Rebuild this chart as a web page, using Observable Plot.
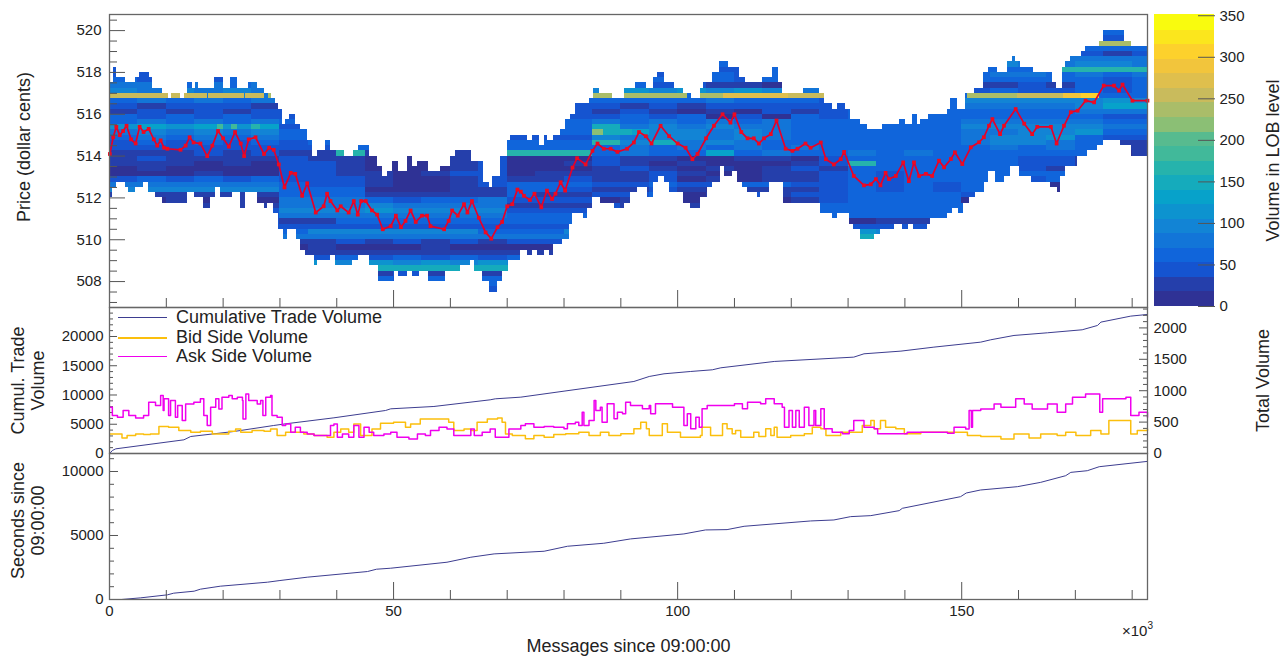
<!DOCTYPE html>
<html><head><meta charset="utf-8">
<script src="https://cdn.jsdelivr.net/npm/d3@7"></script>
<script src="https://cdn.jsdelivr.net/npm/@observablehq/plot@0.6"></script>
<style>
html,body{margin:0;padding:0;background:#fff}
#wrap{position:relative;width:1285px;height:656px;overflow:hidden;font-family:"Liberation Sans",sans-serif;color:#222}
#wrap svg{position:absolute;left:0;top:0}
.lg{position:absolute;font-size:18px;line-height:20px;white-space:nowrap}
.sw{position:absolute;left:118px;width:49px}
</style></head><body><div id="wrap"></div>
<script>
// ---------- Limit order book: envelope of occupied levels (step functions) ----------
const topK=[0,0.65,1.3,2.8,4.6,5.2,7,7.5,9.3,10.4,11,12.5,13.2,13.7,14.6,15.2,15.7,18.4,20.1,21.3,22.6,24.5,26,27.2,28.5,29.2,29.8,30.4,31,31.6,32.7,33.6,34.8,35.7,36.6,38,38.9,41.3,43,43.9,45.7,47.1,48,48.9,49.8,50.9,52.4,53.3,54.2,56.2,58.3,60,60.9,63.8,65.9,66.8,67.5,68.9,70.1,70.5,72.36,73.5,74.4,75.6,76.5,77.1,78.2,79.3,80.3,81.2,82,84.4,85.2,86.2,88.5,90.6,92.6,94.5,95.8,96.5,97.7,99.4,101.1,102.4,104,104.6,106.1,107.4,109,110.8,112,114.9,116.7,117.8,118.4,122.2,124.9,125.8,127.2,128.1,129.6,130.5,132.2,133.4,136,139,140.1,141.3,142.2,142.8,144.2,147.5,148.1,149.2,150.7,152.2,153.9,154.8,156.3,158,158.9,159.5,160.4,162.7,166,166.6,167.7,168.3,169.2,171,171.8,174.2,175,178.6,179.8];
const topP=[517.5,518.25,517.75,517.5,517.75,518,517.75,517.25,517,516.75,517,516.75,517,517.5,517.25,517.5,517.25,517.75,517.25,517.75,517.25,517.5,517.25,517,516.75,516.5,516.25,515.5,515.75,516,515.5,515.25,514.75,514,514.25,514.75,514.25,514,514.25,514.5,514,513.5,513,513.25,513.75,513.25,514,513.5,513.75,513.25,513.5,514,514.25,513.75,512.75,512.5,513,514,514.75,515,515,514.75,515,514.5,515,514.75,515,515.25,515.75,516,516.5,516.75,517.25,517,516.75,517.25,517.5,517.25,517.75,518,517.5,517.25,517,516.75,517.25,517.5,518,518.5,518.25,517.75,517.5,517.75,518.25,517.5,517,517.25,517,516.5,516.25,516.5,516.25,515.75,515.5,515.25,515.5,515.75,515.5,516,515.5,515.75,516,516.25,516.75,516.25,517,517.25,518,518.25,518,518.5,518.75,518.5,518.25,518,517.5,517.25,518.25,518.5,518.75,519,519.25,519.5,520,519.5,519.25];
const botK=[0,0.5,1.3,2.8,3.4,4.6,6,6.9,8.1,9.3,13.7,14.9,16.6,17.8,18.7,19.5,21.6,23,23.9,26,27.2,27.8,28.9,29.8,30.7,31.3,33,33.6,34.5,36,36.6,38.9,39.8,42.7,43.9,45.7,47.4,50.1,50.9,52.4,53.3,54.5,56.2,59.2,61.8,63.6,64.2,65.6,66.8,68.3,69.1,70.3,72.36,73.5,74.4,75.3,76.5,77.4,78.2,79.7,80.9,81.5,83.5,84.1,85,86.4,88.8,90.6,91.7,92.9,94.7,95.8,96.7,97.6,98.5,101.1,102.3,104,105.2,106.1,107.6,108.2,109.6,110.5,111.4,112.3,114,114.6,116.1,118.7,125.2,127.2,128.1,130.2,131,132.2,134.6,135.7,138.1,139.6,140.7,141.6,143.9,144.5,147.5,148.4,149.5,150.4,151.3,152.5,154,154.8,156,157.5,158.6,160.1,162.2,165.7,166.8,167.4,168.3,170.4,172.1,173.9,175,178,179.8];
const botP=[512,512.5,512.75,512.5,512.25,512.5,512.75,512.25,512,511.75,512.25,512,511.5,512,512.5,512,512.25,511.5,512.25,511.75,511.5,511.75,511.25,510.5,510,510.5,510,509.5,509.25,508.75,509,509.25,508.75,509,509.25,508.75,508,508.5,508.25,508.5,508.25,508.5,508,508.5,508.75,509,508.5,508,507.5,508,508.5,509,509.5,509.25,509.5,509.25,509.5,509.25,509.75,510,510.75,511.25,511,511.5,512,511.75,511.5,511.75,512.25,512.5,512,512.75,513,512.75,512.25,511.75,511.5,512,512.5,512.75,513.5,513,513.25,512.75,512.5,512.25,512,512.25,512.75,511.75,511.25,511,511.25,510.75,510.5,510,510.25,510.5,510.75,510.5,510.75,510.5,510.75,511,511.25,511.5,511.25,511.75,512,512.25,512.75,513.25,512.75,513,513.5,513,512.75,512.5,512.25,513,513.5,514,514.25,514.5,514.75,514.5,514];
// Volume band (base-36 digit of the colour band, 17.5 shares wide) per price level, per 5k-message block.
const levelTop=519.75;
const levelBands=[
"333333 33333333 333 333333333 3333 3333333",
"333333 33333333 333 333333333 3333 3333223",
"333333 33333333 333 333333333 3333 3333dd3",
"333333 33333333 333 333333333 3333 3333333",
"222222 33333333 333 222222222 3333 2221212",
"222222 33333333 333 333332223 3333 4444444",
"232222 33333333 333 333332323 3333 5544554",
"222322 33333333 333 223322323 3333 3339999",
"223223 33333333 333 332232323 3333 3443434",
"323232 33333333 333 323332323 3333 3333323",
"443434 33333333 333 232211012 3333 1121323",
"545454 33333333 333 565656543 3333 2322323",
"545454 33333333 333 333333333 3333 3333333",
"343434 33333333 333 333343332 3333 5555565",
"212221 22222222 222 212122222 3333 4444577",
"121212 22222222 222 121010212 3333 3333444",
"323232 22222222 222 232302032 3333 3333322",
"343434 33333333 333 434343433 3333 4444433",
"676767 23333333 333 845454433 3333 5555544",
"454545 33333333 333 c75545433 3333 4455633",
"343434 32222222 222 545545433 3333 4556322",
"232323 23333333 333 958454333 3333 4554311",
"222222 22333333 333 343434343 3333 3434311",
"111212 11911111 999 343373433 4343 3333301",
"121111 21100012 000 211001102 3333 3322122",
"111010 22100012 001 210100012 9333 3322122",
"010000 22100012 000 121010121 3333 3321211",
"000100 22110122 011 112100112 3233 3333223",
"232323 22210012 112 112010112 3233 3323323",
"444444 32210012 333 223223322 3232 3300033",
"555555 33300011 332 112101112 3232 3200033",
"111111 33311111 311 223012122 3333 2100033",
"101010 44432334 222 012000012 3333 0000033",
"111111 44454444 111 212122323 3333 3333333",
"222222 55565555 222 222222323 3333 3333333",
"222222 44444444 333 333322333 3333 1111333",
"222222 11333333 333 333333333 0111 1133333",
"222222 22222222 222 333333333 2222 2222222",
"333333 35555553 335 333333333 6533 3333333",
"333333 44444444 444 333333333 8433 3333333",
"222222 11212121 222 222222222 2222 2222222",
"000000 01000100 000 000000000 0000 0000000",
"111111 11111111 111 111111111 1111 1111111",
"333333 32323232 333 333333333 3333 3333333",
"555555 56565656 555 555555555 5555 5555555",
"888888 88888888 888 888888888 8888 8888888",
"222222 21212121 222 222222222 2222 2222222",
"333333 23232323 333 333333333 3333 3333333",
"333333 33333333 333 333333333 3333 3333333",
"222222 22222222 222 222222222 2222 2222222"];
// High-volume resting orders: [from k, to k, level, volume]
const hotRuns=[[0,10.4,516.75,253],[11,12.5,516.75,245],[13.2,17.2,516.75,250],[17.5,23.7,516.75,255],[24,27.2,516.75,250],[27.9,28.5,516.75,235],[85.2,88.5,516.75,232],[90.6,101.7,516.75,236],[104,108,516.75,238],[108,119.5,516.75,265],[119.5,122,516.75,245],[122,125.8,516.75,250],[151,159.8,516.75,240],[159.8,168,516.75,262],[168,171,516.75,285],[171,174.2,516.75,305],[85,87,515,225],[87,92,515,140],[19,20,515.25,185],[21.5,22.5,515.25,190],[25,26.5,515.25,170]];
// ---------- Mid price ----------
const midK=[0.06,0.65,1.2,1.8,2.4,3,3.8,4.6,5.3,6,6.9,7.8,8.4,9,9.6,10.2,12.5,13.4,14.1,14.8,16,17.2,18.1,19.1,20,21,22.1,23.1,23.7,24.5,25.7,27.2,28.1,28.9,29.8,30.8,31.9,32.7,33.9,34.8,36.3,37.7,38.3,38.9,40.1,40.7,42.1,43,43.7,44.3,45.1,46.2,47.1,48.1,49.5,50.4,51.3,52.1,53,53.9,55,55.9,56.5,58.9,59.7,60.3,61.3,62.4,63,63.8,65,66.2,67.2,68.3,69.1,70,70.9,71.8,72.4,72.95,74,74.8,76,77,77.9,78.5,79.4,80.2,81.5,82.3,83.8,85,85.9,87,88.2,89.4,91.1,92.3,93.2,94.4,95.4,97,98.5,100,101.4,102.6,103.5,105,106.4,107.9,109.3,110,111.2,112.3,113.4,114.3,115.2,116.4,117.4,119,120.2,121.1,122.5,123.4,125.2,126.1,127.5,128.7,129.3,131,132.8,134,134.9,135.7,136.6,137.2,138.4,139.7,140.7,141.6,142.5,143.7,144.8,146,146.9,148.1,148.8,150.1,151.6,153.05,153.9,154.8,155.4,156.75,157.45,159.5,161,162.4,163.3,165.7,166.7,168,169.2,170.4,171.8,173.3,175,176.8,177.7,178.3,180.05,182.7];
const midP=[514.1,514.9,515.4,515,515.2,515.45,514.8,514.6,515.4,515.15,515.3,514.8,514.5,514.75,514.4,514.35,514.3,514.5,514.9,514.65,514.6,514,514.5,515.2,514.85,514.45,515.15,514.6,514,514.8,514.9,514.1,514.4,514.3,513.6,512.5,513.2,513.15,512.1,512.7,511.3,511.6,512.2,511.85,511.4,511.6,511.3,511.85,511.2,511.85,511.85,511.4,511.2,510.5,510.65,511.15,510.6,510.9,511.4,510.85,511.15,511.15,510.65,510.5,510.9,511.4,511.15,511.7,511.3,511.85,511.05,510.35,510.05,510.6,510.85,511.6,511.7,512.4,512.3,512.1,511.9,512.2,511.55,512.35,511.95,512.2,512.75,512.35,513.45,513.9,513.6,514.25,514.6,514.35,514.35,514.2,514.35,514.65,515.15,514.95,514.6,515.45,514.95,514.6,514.4,513.85,514.1,514.85,515.45,516,515.6,516,515.15,514.85,514.85,514.6,514.85,515.05,515.7,514.35,514.25,514.35,514.6,514.4,514.65,513.85,513.6,513.85,514.2,513.05,512.6,512.65,512.9,512.6,513.2,512.9,513.05,513.7,512.8,513.7,513.05,513.15,513.05,513.78,513.46,513.86,514.18,513.62,514.42,514.66,514.9,515.45,515.77,515.05,515.45,516.25,515.55,515.05,515.4,515.4,514.6,515.45,516.1,516.17,516.65,516.57,517.37,517.37,517.13,517.42,516.65,516.65];
// ---------- Volumes ----------
const cumK=[0.05,0.5,1.1,13.1,14.3,21.9,28.9,31,39.5,48.6,49.5,57.1,67,67.9,72.4,80,92.3,95,97.6,102.3,106.1,107.6,117,131,132.8,139.3,145.1,153.35,155.1,159.2,165.1,171.2,173.9,174.5,179.75,182.7];
const cumV=[0,513,798,2337,2907,3762,4788,5073,6099,7353,7638,8037,9177,9348,9633,10659,12312,13167,13623,14022,14307,14649,15732,16473,17043,17500,18183,19038,19437,20178,20634,21147,21888,22458,23484,23769];
const bidK=[0.1,1.1,2.2,3.1,4.6,6,7.2,8.7,10.4,12.2,14.3,16,18.1,19.5,21,22.2,23.1,25.1,27.2,28.35,29.5,31,32.5,34.2,36,38.3,39.5,40.7,42.1,43,44.2,46.2,47.7,50,52.1,53,54.7,57.1,59.7,60.6,62.4,63.6,64.7,66.5,68.3,69.1,69.7,70.9,72.4,73.2,74.7,76.5,78.2,80.3,82.6,84.4,86.4,87.9,90,92.3,93.5,94.5,95,97.3,98.2,100.5,102.3,104,104.3,105.8,107.9,108.7,109.6,110.2,111.1,113.4,114.3,115.5,116.4,117,117.5,119.9,122.3,123.7,125.2,126.1,128.7,131,132.5,134,134.6,135.7,136.6,138.4,139.9,142.8,146.3,147.5,149.2,151,153.35,156.9,159.2,161.85,163.9,166.8,168.3,170.1,172.7,174.5,175.9,178,179.75,180.9,182.7];
const bidV=[312,312,248,285,312,301,312,429,418,365,339,354,312,312,354,392,339,365,354,392,285,339,339,312,285,259,339,392,339,471,285,392,482,498,418,471,551,551,498,365,392,365,498,551,567,498,312,285,287,233,287,260,303,313,340,287,340,287,313,393,499,393,287,472,340,260,260,287,419,287,472,393,313,366,260,340,271,393,287,419,260,287,313,419,393,287,340,340,446,526,393,526,419,393,313,340,340,339,339,285,270,232,312,248,312,285,339,285,365,312,524,524,312,365,392];
const askK=[0.1,0.5,1.4,2.4,3.4,4.6,6,6.9,8.1,9,9.45,9.6,10.4,10.75,11.6,12,12.8,13.4,14.85,16,16.6,17.2,17.8,18.7,19.25,19.8,21,21.6,22.5,23.4,23.5,24,24.5,26,26.6,27,27.5,28.35,28.6,29.5,30.4,31,31.9,32.7,33.6,34.8,36,37.2,38.9,39.5,40.1,41,42.1,43,43.9,44.8,45.7,46.5,48.3,49.5,50.6,52.7,54.2,55.6,56.5,58,59.4,60.6,62.4,63.6,64.2,65.6,67,67.9,69.7,70.3,72.4,73.2,74.7,76.5,78.2,80,80.6,82,82.6,83.2,83.5,84.4,85,85.3,85.6,86.4,86.7,87.6,88.3,88.8,89.4,90.3,90.85,91.7,92.9,93.8,95,95.25,96.1,97.9,99.1,100.5,101.1,101.7,102.3,103.2,103.8,104.3,105.2,107.6,110,111.4,112.3,114.6,115.5,117,118.4,118.8,119.6,120.2,120.8,121.4,122.3,123.1,124,124.3,125.2,125.8,127.2,129,130.2,131,132.2,132.8,134.6,135.2,137.5,140.4,143.9,146.3,147.5,148.65,150.7,151.3,151.7,151.9,153.35,155.7,156.9,159.5,161,162.4,165.1,166.8,168.3,169.5,171.8,173.6,174.3,174.8,177.4,178.9,179.75,181.2,182.7];
const askV=[737,604,578,684,604,567,604,816,763,923,684,870,604,843,578,763,524,790,816,870,604,445,737,870,710,896,923,870,896,843,551,949,843,790,843,604,896,923,604,578,445,471,339,418,339,312,285,285,445,471,259,312,259,445,259,418,339,285,312,339,259,232,312,285,365,418,392,285,285,392,285,339,392,259,259,392,445,472,419,430,419,393,472,499,446,658,446,526,526,844,685,738,499,791,791,552,658,632,818,764,764,711,764,632,791,791,738,738,446,632,393,579,419,711,764,764,791,711,818,791,871,791,738,419,685,419,685,419,738,446,685,446,711,393,340,313,366,526,526,419,393,313,313,340,340,340,323,418,392,684,418,684,710,790,737,870,790,710,790,657,790,896,949,949,657,870,870,896,604,657,578];
// ---------- Elapsed time ----------
const secK=[0,2.1,5.5,10.2,11.3,14.9,16,19.5,27.8,30,34.8,45.4,47,49.5,59.4,63.6,67.7,76.5,80.6,87,91.7,101.1,104.9,108.7,111.7,123.4,127.5,130.45,134,139,139.55,149.8,150.8,153.3,159.8,163.9,168.3,169.2,172.1,174.2,182.7];
const secV=[0,0,130,364,494,650,806,1040,1352,1482,1742,2184,2366,2444,2912,3302,3562,3770,4160,4394,4732,5122,5434,5460,5720,6136,6214,6474,6552,6942,7124,8034,8320,8554,8814,9152,9672,9932,10062,10374,10790];
// ---------- Palette and axes ----------
const palette=["#2f3295","#253fab","#1554d0","#1065db","#1275d8","#1284d5","#0d93cf","#07a2ca","#15abbc","#26b3ac","#41b99a","#57bb8f","#8bbf75","#aabd69","#c9bb5c","#dfbf4d","#f2c53c","#fdd12c","#fbe61d","#f9fb0e"];
const bandWidth=17.5;
const thresholds=d3.range(1,20).map(i=>i*bandWidth);
const colourBands=d3.range(0,20).map(i=>i*bandWidth);
const xMajor=[0,50,100,150], xMinor=[10,20,30,40,60,70,80,90,110,120,130,140,160,170,180];
const priceMajor=[508,510,512,514,516,518,520];
const priceMinor=[507,507.5,508.5,509,509.5,510.5,511,511.5,512.5,513,513.5,514.5,515,515.5,516.5,517,517.5,518.5,519,519.5,520.5];
const cumMajor=[0,5000,10000,15000,20000];
const cumMinor=[1000,2000,3000,4000,6000,7000,8000,9000,11000,12000,13000,14000,16000,17000,18000,19000,21000,22000,23000,24000];
const totMajor=[0,500,1000,1500,2000];
const totMinor=[100,200,300,400,600,700,800,900,1100,1200,1300,1400,1600,1700,1800,1900,2100,2200,2300];
const secMajor=[0,5000,10000];
const secMinor=[1000,2000,3000,4000,6000,7000,8000,9000,11000];
const cbTicks=[0,50,100,150,200,250,300,350];

const W=1285,H=656,ML=109,MR=W-1147,FONT='"Liberation Sans",sans-serif';
const xDom=[0,182.7], TICK="#555", TXT="#222", FR="#666";
const step=(K,P,k)=>P[Math.max(0,d3.bisectRight(K,k+1e-9)-1)];
const pts=(K,V)=>K.map((k,i)=>({k,v:V[i]}));
const fmt=d=>String(d);
const base=(top,bottom,extra)=>({width:W,height:H,marginLeft:ML,marginRight:MR,marginTop:top,marginBottom:H-bottom,
  style:{background:"transparent",fontFamily:FONT,fontSize:"15px",overflow:"visible"},...extra});
const colorOpt={type:"threshold",domain:thresholds,range:palette};

const rows=levelBands.map(s=>s.replace(/ /g,""));
const breaks=[...new Set([...topK,...botK,...d3.range(0,185,5),...hotRuns.flatMap(r=>[r[0],r[1]]),xDom[1]])].filter(k=>k<=xDom[1]).sort(d3.ascending);
const cells=[];
for(let i=0;i<breaks.length-1;i++){
  const a=breaks[i],b=breaks[i+1],m=(a+b)/2;
  const t=step(topK,topP,m),u=step(botK,botP,m),col=Math.floor(m/5);
  rows.forEach((row,r)=>{
    const p=levelTop-r*0.25;
    if(p<u||p>=t) return;
    const hot=hotRuns.find(h=>h[2]===p&&m>=h[0]&&m<h[1]);
    const v=hot?hot[3]:parseInt(row[col],36)*bandWidth+8;
    cells.push({a,b,p,v});
  });
}
const mid=pts(midK,midP);
const label=(t,o)=>Plot.text([t],{textAnchor:"middle",fontSize:18,lineHeight:1.12,fill:TXT,...o});

const priceY=[506.76,520.77];
const topPlot=Plot.plot(base(14,307,{
  x:{domain:xDom,axis:null}, y:{domain:priceY,axis:null}, color:colorOpt,
  marks:[
    Plot.rect(cells,{x1:"a",x2:"b",y1:"p",y2:d=>d.p+0.25,fill:"v",shapeRendering:"crispEdges"}),
    Plot.line(mid,{x:"k",y:"v",stroke:"#e4002b",strokeWidth:1.7}),
    Plot.dot(mid,{x:"k",y:"v",symbol:"square",r:2.1,fill:"#ee0a20"}),
    Plot.axisX(xMajor,{anchor:"bottom",tickSize:-17,stroke:TICK,text:null,label:null}),
    Plot.axisX(xMinor,{anchor:"bottom",tickSize:-9,stroke:TICK,text:null,label:null}),
    Plot.axisY(priceMajor,{anchor:"left",tickSize:-16,tickPadding:24,stroke:TICK,fill:TXT,tickFormat:fmt,label:null}),
    Plot.axisY(priceMinor,{anchor:"left",tickSize:-8,stroke:TICK,text:null,label:null}),
    Plot.frame({stroke:FR,strokeWidth:1.3}),
    label("Price (dollar cents)",{frameAnchor:"left",dx:-86,dy:-14,rotate:-90})
  ]}));

const midLeft=Plot.plot(base(307,453,{
  x:{domain:xDom,axis:null}, y:{domain:[0,24957],axis:null},
  marks:[
    Plot.line(pts(cumK,cumV),{x:"k",y:"v",stroke:"#3d3d90",strokeWidth:1}),
    Plot.axisY(cumMajor,{anchor:"left",tickSize:-8,tickPadding:14,stroke:TICK,fill:TXT,tickFormat:fmt,label:null}),
    Plot.axisY(cumMinor,{anchor:"left",tickSize:-4,stroke:TICK,text:null,label:null}),
    label("Cumul. Trade\nVolume",{frameAnchor:"left",dx:-82,rotate:-90})
  ]}));
const midRight=Plot.plot(base(307,453,{
  x:{domain:xDom,axis:null}, y:{domain:[0,2325],axis:null},
  marks:[
    Plot.line(pts(bidK,bidV),{x:"k",y:"v",stroke:"#fbbf0d",strokeWidth:1.5,curve:"step-after"}),
    Plot.line(pts(askK,askV),{x:"k",y:"v",stroke:"#f000ee",strokeWidth:1.5,curve:"step-after"}),
    Plot.axisY(totMajor,{anchor:"right",tickSize:-9,tickPadding:15,stroke:TICK,fill:TXT,tickFormat:fmt,label:null}),
    Plot.axisY(totMinor,{anchor:"right",tickSize:-5,stroke:TICK,text:null,label:null}),
    Plot.frame({stroke:FR,strokeWidth:1.3}),
    label("Total Volume",{frameAnchor:"right",dx:115,rotate:-90})
  ]}));

const botPlot=Plot.plot(base(453,599,{
  x:{domain:xDom,axis:null}, y:{domain:[0,11406],axis:null},
  marks:[
    Plot.line(pts(secK,secV),{x:"k",y:"v",stroke:"#3d3d90",strokeWidth:1}),
    Plot.axisX(xMajor,{anchor:"bottom",tickSize:-17,tickPadding:23,stroke:TICK,fill:TXT,tickFormat:fmt,label:null}),
    Plot.axisX(xMinor,{anchor:"bottom",tickSize:-9,stroke:TICK,text:null,label:null}),
    Plot.axisY(secMajor,{anchor:"left",tickSize:-9,tickPadding:15,stroke:TICK,fill:TXT,tickFormat:fmt,label:null}),
    Plot.axisY(secMinor,{anchor:"left",tickSize:-5,stroke:TICK,text:null,label:null}),
    Plot.frame({stroke:FR,strokeWidth:1.3}),
    label("Seconds since\n09:00:00",{frameAnchor:"left",dx:-82,dy:-6,rotate:-90}),
    label("Messages since 09:00:00",{frameAnchor:"bottom",dy:52})
  ]}));

const cbPlot=Plot.plot({width:W,height:H,marginLeft:1154,marginRight:W-1214,marginTop:14,marginBottom:H-306,
  style:{background:"transparent",fontFamily:FONT,fontSize:"15px",overflow:"visible"},
  x:{axis:null}, y:{domain:[0,351.5],axis:null}, color:colorOpt,
  marks:[
    Plot.rect(colourBands,{y1:d=>d,y2:d=>d+bandWidth+(d===332.5?1.5:0),fill:d=>d+1,shapeRendering:"crispEdges"}),
    Plot.axisY(cbTicks,{anchor:"right",tickSize:-17,tickPadding:22,stroke:TICK,fill:TXT,tickFormat:fmt,label:null}),
    label("Volume in LOB level",{frameAnchor:"right",dx:58,rotate:-90})
  ]});

const wrap=document.getElementById("wrap");
[topPlot,midLeft,midRight,botPlot,cbPlot].forEach(p=>wrap.appendChild(p));

// Legend
const legend=[["Cumulative Trade Volume","#3d3d90",317,1],["Bid Side Volume","#fbbf0d",337,2],["Ask Side Volume","#f000ee",356,1]];
legend.forEach(([t,c,y,h])=>{
  const s=document.createElement("div");s.className="sw";s.style.top=y+"px";s.style.height=h+"px";s.style.background=c;wrap.appendChild(s);
  const d=document.createElement("div");d.className="lg";d.textContent=t;d.style.left="176px";d.style.top=(y-10)+"px";wrap.appendChild(d);
});
const ex=document.createElement("div");
ex.style.cssText="position:absolute;left:1122px;top:622px;font-size:15px;white-space:nowrap";
ex.innerHTML='×10<sup style="font-size:10px;position:relative;top:-1px;vertical-align:super;line-height:0">3</sup>';
wrap.appendChild(ex);
</script></body></html>
